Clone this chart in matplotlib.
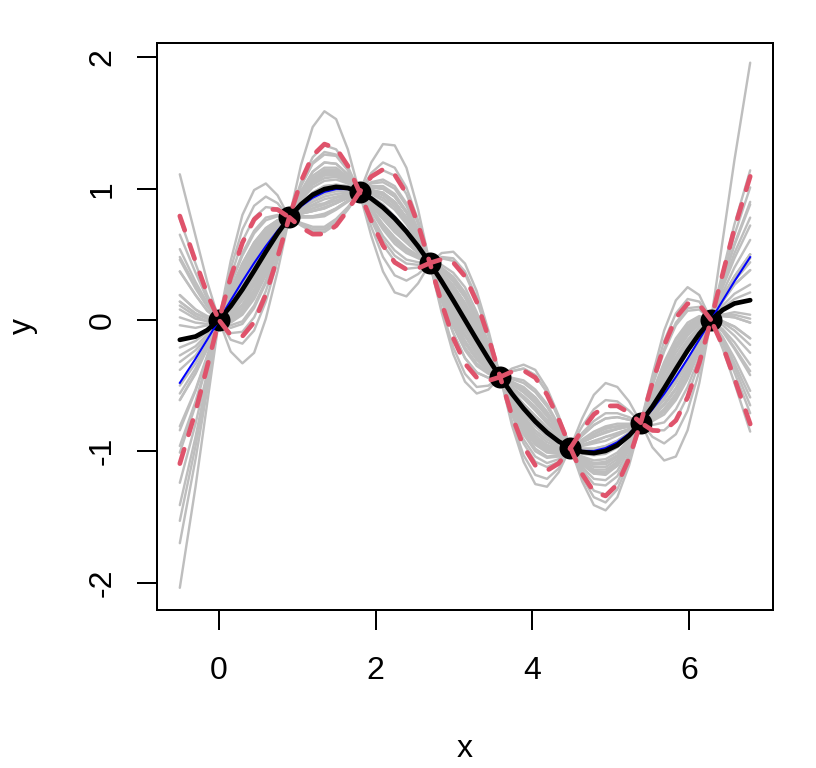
"""plot.py - GP posterior sample paths through sin(x) observations.

Grey: posterior sample paths, black: posterior mean, blue: true sin(x),
red dashed: 5% / 95% pointwise quantiles, dots: the 8 observations.
"""
import matplotlib
matplotlib.use("Agg")
import matplotlib.pyplot as plt


# ----------------------------------------------------------------
# R base-graphics look
# ----------------------------------------------------------------
plt.rcParams.update({
    "figure.facecolor":   "white",
    "axes.facecolor":     "white",
    "font.family":        ["Liberation Sans", "DejaVu Sans"],
    "font.size":          23,
    "axes.linewidth":     1.44,
    "axes.unicode_minus": False,
})

PX = 0.72          # one pixel in points at dpi=100

# ----------------------------------------------------------------
# data
# ----------------------------------------------------------------
x_obs = [0.0, 0.898, 1.795, 2.693, 3.590, 4.488, 5.386, 6.283]
y_obs = [0.0, 0.782, 0.975, 0.434, -0.434, -0.975, -0.782, 0.0]

x_grid = [-0.5, -0.2992, -0.1496, 0.0, 0.1496, 0.2992, 0.4488, 0.5984,
          0.7480, 0.8976, 1.0472, 1.1968, 1.3464, 1.4960, 1.6456, 1.7952,
          1.9448, 2.0944, 2.2440, 2.3936, 2.5432, 2.6928, 2.8424, 2.9920,
          3.1416, 3.2912, 3.4408, 3.5904, 3.7400, 3.8896, 4.0392, 4.1888,
          4.3384, 4.4880, 4.6376, 4.7872, 4.9368, 5.0864, 5.2360, 5.3856,
          5.5352, 5.6848, 5.8344, 5.9840, 6.1336, 6.2832, 6.4328, 6.5824,
          6.7832]

true_sin = [-0.479, -0.295, -0.149, 0.0, 0.149, 0.295, 0.434, 0.563, 0.680,
            0.782, 0.866, 0.931, 0.975, 0.997, 0.997, 0.975, 0.931, 0.866,
            0.782, 0.680, 0.563, 0.434, 0.295, 0.149, 0.0, -0.149, -0.295,
            -0.434, -0.563, -0.680, -0.782, -0.866, -0.931, -0.975, -0.997,
            -0.997, -0.975, -0.931, -0.866, -0.782, -0.680, -0.563, -0.434,
            -0.295, -0.149, 0.0, 0.149, 0.295, 0.479]

post_mean = [-0.151, -0.126, -0.077, 0.0, 0.105, 0.232, 0.374, 0.520, 0.659,
             0.782, 0.881, 0.954, 0.997, 1.014, 1.005, 0.975, 0.925, 0.857,
             0.773, 0.674, 0.561, 0.434, 0.296, 0.150, 0.0, -0.150, -0.296,
             -0.434, -0.561, -0.674, -0.773, -0.857, -0.925, -0.975, -1.005,
             -1.014, -0.997, -0.954, -0.881, -0.782, -0.659, -0.520, -0.374,
             -0.232, -0.105, 0.0, 0.077, 0.126, 0.151]

band_hi = [0.792, 0.446, 0.198, 0.0, 0.325, 0.589, 0.765, 0.845, 0.841,
           0.782, 1.056, 1.253, 1.340, 1.308, 1.174, 0.975, 1.092, 1.147,
           1.107, 0.963, 0.727, 0.434, 0.462, 0.438, 0.332, 0.138, -0.130,
           -0.434, -0.394, -0.385, -0.439, -0.568, -0.757, -0.975, -0.837,
           -0.719, -0.655, -0.654, -0.706, -0.782, -0.477, -0.195, 0.017,
           0.124, 0.116, 0.0, 0.353, 0.697, 1.094]

band_lo = [-1.094, -0.697, -0.353, 0.0, -0.116, -0.124, -0.017, 0.195, 0.477,
           0.782, 0.706, 0.654, 0.655, 0.719, 0.837, 0.975, 0.757, 0.568,
           0.439, 0.385, 0.394, 0.434, 0.130, -0.138, -0.332, -0.438, -0.462,
           -0.434, -0.727, -0.963, -1.107, -1.147, -1.092, -0.975, -1.174,
           -1.308, -1.340, -1.253, -1.056, -0.782, -0.841, -0.845, -0.765,
           -0.589, -0.325, 0.0, -0.198, -0.446, -0.792]

sample_paths = [
    [1.11, 0.64, 0.29, 0, -0.24, -0.33, -0.25, 0.01, 0.37, 0.78, 1.18, 1.47, 1.59, 1.53, 1.30, 0.97, 0.64, 0.37, 0.21, 0.18, 0.28, 0.43, 0.51, 0.52, 0.43, 0.22, -0.08, -0.43, -0.80, -1.08, -1.25, -1.27, -1.16, -0.97, -0.75, -0.57, -0.48, -0.51, -0.62, -0.78, -0.97, -1.07, -1.04, -0.84, -0.48, 0, 0.61, 1.22, 1.96],
    [-2.04, -1.27, -0.63, 0, 0.45, 0.80, 0.99, 1.04, 0.95, 0.78, 0.73, 0.69, 0.69, 0.75, 0.85, 0.97, 1.20, 1.34, 1.33, 1.16, 0.84, 0.43, 0.06, -0.26, -0.47, -0.56, -0.53, -0.43, -0.37, -0.34, -0.38, -0.52, -0.73, -0.97, -1.23, -1.41, -1.45, -1.35, -1.11, -0.78, -0.42, -0.08, 0.15, 0.25, 0.19, 0, -0.22, -0.48, -0.85],
    [-0.38, -0.27, -0.14, 0, 0.12, 0.25, 0.40, 0.54, 0.67, 0.78, 0.89, 0.97, 1.02, 1.03, 1.02, 0.97, 0.93, 0.86, 0.77, 0.67, 0.56, 0.43, 0.28, 0.11, -0.04, -0.19, -0.32, -0.43, -0.55, -0.66, -0.75, -0.84, -0.92, -0.97, -1.00, -1.00, -0.98, -0.94, -0.87, -0.78, -0.65, -0.50, -0.35, -0.21, -0.09, 0, -0.01, -0.05, -0.14],
    [0.02, -0.02, -0.03, 0, 0.13, 0.28, 0.42, 0.56, 0.68, 0.78, 0.85, 0.90, 0.94, 0.96, 0.97, 0.97, 0.94, 0.88, 0.79, 0.69, 0.57, 0.43, 0.30, 0.15, 0.00, -0.15, -0.30, -0.43, -0.54, -0.64, -0.73, -0.82, -0.90, -0.97, -1.04, -1.07, -1.06, -1.01, -0.91, -0.78, -0.64, -0.48, -0.33, -0.19, -0.08, 0, 0.11, 0.20, 0.27],
    [-0.61, -0.40, -0.21, 0, 0.16, 0.32, 0.47, 0.60, 0.70, 0.78, 0.86, 0.92, 0.96, 0.98, 0.98, 0.97, 0.96, 0.91, 0.84, 0.73, 0.59, 0.43, 0.26, 0.08, -0.08, -0.22, -0.34, -0.43, -0.54, -0.64, -0.73, -0.82, -0.90, -0.97, -1.02, -1.03, -1.02, -0.97, -0.89, -0.78, -0.63, -0.46, -0.30, -0.17, -0.07, 0, -0.02, -0.08, -0.19],
    [-0.21, -0.16, -0.09, 0, 0.15, 0.30, 0.45, 0.58, 0.69, 0.78, 0.83, 0.87, 0.89, 0.93, 0.95, 0.97, 0.97, 0.93, 0.86, 0.75, 0.60, 0.43, 0.27, 0.10, -0.06, -0.20, -0.33, -0.43, -0.51, -0.59, -0.67, -0.77, -0.87, -0.97, -1.05, -1.09, -1.08, -1.03, -0.92, -0.78, -0.64, -0.48, -0.33, -0.19, -0.08, 0, 0.16, 0.30, 0.44],
    [-0.84, -0.54, -0.28, 0, 0.19, 0.36, 0.52, 0.64, 0.73, 0.78, 0.84, 0.88, 0.92, 0.94, 0.96, 0.97, 0.98, 0.95, 0.88, 0.76, 0.61, 0.43, 0.23, 0.04, -0.12, -0.26, -0.36, -0.43, -0.52, -0.60, -0.69, -0.79, -0.88, -0.97, -1.07, -1.12, -1.12, -1.06, -0.94, -0.78, -0.58, -0.38, -0.21, -0.08, -0.01, 0, -0.09, -0.22, -0.42],
    [-0.32, -0.23, -0.13, 0, 0.17, 0.34, 0.49, 0.62, 0.72, 0.78, 0.81, 0.83, 0.85, 0.89, 0.93, 0.97, 0.99, 0.96, 0.90, 0.78, 0.62, 0.43, 0.21, 0.01, -0.16, -0.29, -0.38, -0.43, -0.49, -0.55, -0.63, -0.73, -0.85, -0.97, -1.06, -1.10, -1.10, -1.04, -0.93, -0.78, -0.62, -0.44, -0.28, -0.15, -0.05, 0, 0.08, 0.13, 0.15],
    [-1.01, -0.65, -0.33, 0, 0.23, 0.43, 0.59, 0.70, 0.76, 0.78, 0.81, 0.83, 0.85, 0.89, 0.93, 0.97, 1.01, 1.00, 0.94, 0.82, 0.64, 0.43, 0.23, 0.04, -0.12, -0.26, -0.36, -0.43, -0.48, -0.53, -0.61, -0.72, -0.84, -0.97, -1.10, -1.17, -1.18, -1.11, -0.97, -0.78, -0.58, -0.38, -0.21, -0.08, -0.01, 0, 0.03, 0.02, -0.02],
    [-0.50, -0.33, -0.18, 0, 0.21, 0.41, 0.56, 0.68, 0.75, 0.78, 0.78, 0.78, 0.79, 0.84, 0.90, 0.97, 1.02, 1.02, 0.96, 0.83, 0.65, 0.43, 0.18, -0.05, -0.23, -0.35, -0.41, -0.43, -0.47, -0.51, -0.59, -0.70, -0.83, -0.97, -1.09, -1.16, -1.16, -1.10, -0.96, -0.78, -0.55, -0.32, -0.14, -0.02, 0.03, 0, -0.14, -0.33, -0.59],
    [-1.24, -0.79, -0.40, 0, 0.27, 0.49, 0.66, 0.76, 0.79, 0.78, 0.79, 0.79, 0.81, 0.85, 0.91, 0.97, 1.04, 1.05, 1.00, 0.87, 0.67, 0.43, 0.19, -0.03, -0.21, -0.33, -0.40, -0.43, -0.44, -0.46, -0.53, -0.64, -0.80, -0.97, -1.12, -1.21, -1.22, -1.15, -0.99, -0.78, -0.56, -0.34, -0.16, -0.04, 0.02, 0, -0.04, -0.12, -0.25],
    [-1.41, -0.89, -0.45, 0, 0.28, 0.51, 0.68, 0.78, 0.80, 0.78, 0.74, 0.71, 0.71, 0.77, 0.86, 0.97, 1.05, 1.07, 1.02, 0.89, 0.69, 0.43, 0.15, -0.10, -0.29, -0.40, -0.44, -0.43, -0.45, -0.48, -0.55, -0.66, -0.81, -0.97, -1.14, -1.25, -1.26, -1.19, -1.02, -0.78, -0.50, -0.24, -0.04, 0.07, 0.08, 0, -0.18, -0.40, -0.71],
    [-1.53, -0.96, -0.48, 0, 0.33, 0.60, 0.78, 0.86, 0.85, 0.78, 0.73, 0.69, 0.69, 0.75, 0.85, 0.97, 1.09, 1.14, 1.10, 0.96, 0.73, 0.43, 0.15, -0.10, -0.29, -0.40, -0.44, -0.43, -0.39, -0.37, -0.42, -0.55, -0.75, -0.97, -1.17, -1.30, -1.33, -1.24, -1.05, -0.78, -0.49, -0.22, -0.02, 0.09, 0.10, 0, -0.13, -0.29, -0.54],
    [-1.70, -1.06, -0.53, 0, 0.39, 0.69, 0.87, 0.94, 0.89, 0.78, 0.72, 0.67, 0.67, 0.73, 0.84, 0.97, 1.12, 1.20, 1.16, 1.01, 0.76, 0.43, 0.09, -0.21, -0.41, -0.51, -0.50, -0.43, -0.39, -0.37, -0.42, -0.55, -0.75, -0.97, -1.20, -1.35, -1.39, -1.29, -1.08, -0.78, -0.46, -0.16, 0.05, 0.16, 0.14, 0, -0.16, -0.36, -0.65],
    [0.14, 0.05, 0.01, 0, 0.09, 0.21, 0.35, 0.50, 0.65, 0.78, 0.87, 0.94, 0.98, 1.00, 1.00, 0.97, 0.92, 0.84, 0.75, 0.66, 0.55, 0.43, 0.30, 0.15, 0.00, -0.15, -0.30, -0.43, -0.58, -0.71, -0.81, -0.89, -0.95, -0.97, -1.00, -1.00, -0.98, -0.94, -0.87, -0.78, -0.66, -0.52, -0.37, -0.23, -0.11, 0, 0.03, 0.02, -0.02],
    [-0.27, -0.20, -0.11, 0, 0.08, 0.19, 0.33, 0.48, 0.64, 0.78, 0.89, 0.97, 1.02, 1.03, 1.02, 0.97, 0.89, 0.80, 0.71, 0.62, 0.53, 0.43, 0.32, 0.19, 0.04, -0.11, -0.28, -0.43, -0.57, -0.69, -0.79, -0.88, -0.94, -0.97, -0.98, -0.98, -0.96, -0.92, -0.86, -0.78, -0.69, -0.58, -0.45, -0.30, -0.15, 0, 0.18, 0.33, 0.50],
    [0.19, 0.08, 0.02, 0, 0.07, 0.17, 0.30, 0.46, 0.63, 0.78, 0.92, 1.03, 1.08, 1.09, 1.05, 0.97, 0.90, 0.82, 0.73, 0.64, 0.54, 0.43, 0.33, 0.20, 0.06, -0.10, -0.27, -0.43, -0.60, -0.75, -0.86, -0.93, -0.97, -0.97, -0.98, -0.98, -0.96, -0.92, -0.86, -0.78, -0.67, -0.54, -0.40, -0.25, -0.12, 0, 0.04, 0.06, 0.04],
    [-0.15, -0.13, -0.08, 0, 0.05, 0.15, 0.28, 0.44, 0.62, 0.78, 0.91, 1.01, 1.06, 1.07, 1.04, 0.97, 0.87, 0.77, 0.67, 0.59, 0.51, 0.43, 0.34, 0.22, 0.08, -0.08, -0.26, -0.43, -0.59, -0.73, -0.84, -0.91, -0.96, -0.97, -0.95, -0.93, -0.89, -0.87, -0.83, -0.78, -0.70, -0.60, -0.47, -0.32, -0.16, 0, 0.21, 0.40, 0.61],
    [0.37, 0.19, 0.07, 0, 0.04, 0.12, 0.26, 0.42, 0.60, 0.78, 0.94, 1.06, 1.12, 1.12, 1.07, 0.97, 0.88, 0.79, 0.69, 0.60, 0.52, 0.43, 0.35, 0.24, 0.10, -0.06, -0.24, -0.43, -0.62, -0.78, -0.90, -0.96, -0.99, -0.97, -0.96, -0.94, -0.92, -0.88, -0.84, -0.78, -0.73, -0.64, -0.52, -0.36, -0.19, 0, 0.09, 0.16, 0.21],
    [-0.04, -0.06, -0.04, 0, 0.01, 0.08, 0.21, 0.38, 0.58, 0.78, 0.93, 1.04, 1.10, 1.10, 1.06, 0.97, 0.85, 0.73, 0.63, 0.55, 0.49, 0.43, 0.36, 0.26, 0.12, -0.04, -0.23, -0.43, -0.61, -0.76, -0.88, -0.95, -0.98, -0.97, -0.93, -0.89, -0.85, -0.83, -0.81, -0.78, -0.73, -0.64, -0.52, -0.36, -0.19, 0, 0.25, 0.47, 0.72],
    [0.48, 0.26, 0.11, 0, 0.00, 0.06, 0.18, 0.36, 0.57, 0.78, 0.95, 1.08, 1.14, 1.14, 1.08, 0.97, 0.84, 0.72, 0.61, 0.53, 0.48, 0.43, 0.39, 0.31, 0.19, 0.01, -0.20, -0.43, -0.63, -0.80, -0.92, -0.98, -1.00, -0.97, -0.92, -0.87, -0.83, -0.81, -0.80, -0.78, -0.76, -0.70, -0.59, -0.43, -0.23, 0, 0.14, 0.27, 0.38],
    [0.08, 0.01, -0.01, 0, -0.02, 0.04, 0.16, 0.34, 0.56, 0.78, 0.98, 1.13, 1.20, 1.19, 1.11, 0.97, 0.84, 0.72, 0.61, 0.53, 0.48, 0.43, 0.39, 0.31, 0.19, 0.01, -0.20, -0.43, -0.66, -0.85, -0.98, -1.04, -1.03, -0.97, -0.91, -0.85, -0.81, -0.79, -0.79, -0.78, -0.75, -0.68, -0.56, -0.41, -0.21, 0, 0.30, 0.58, 0.90],
    [0.65, 0.36, 0.16, 0, -0.04, -0.01, 0.11, 0.30, 0.54, 0.78, 0.98, 1.13, 1.20, 1.19, 1.11, 0.97, 0.80, 0.64, 0.53, 0.46, 0.44, 0.43, 0.40, 0.33, 0.21, 0.03, -0.19, -0.43, -0.67, -0.87, -1.00, -1.05, -1.04, -0.97, -0.88, -0.80, -0.75, -0.74, -0.76, -0.78, -0.77, -0.72, -0.61, -0.45, -0.24, 0, 0.18, 0.33, 0.50],
    [0.37, 0.19, 0.07, 0, -0.06, -0.03, 0.09, 0.28, 0.53, 0.78, 1.02, 1.19, 1.26, 1.25, 1.14, 0.97, 0.78, 0.61, 0.49, 0.43, 0.42, 0.43, 0.42, 0.36, 0.25, 0.06, -0.17, -0.43, -0.70, -0.91, -1.04, -1.09, -1.06, -0.97, -0.88, -0.80, -0.75, -0.74, -0.76, -0.78, -0.80, -0.78, -0.68, -0.51, -0.28, 0, 0.37, 0.73, 1.14],
    [0.77, 0.43, 0.19, 0, -0.10, -0.09, 0.02, 0.22, 0.49, 0.78, 1.03, 1.20, 1.28, 1.26, 1.15, 0.97, 0.76, 0.57, 0.45, 0.39, 0.40, 0.43, 0.47, 0.45, 0.35, 0.15, -0.12, -0.43, -0.72, -0.94, -1.08, -1.12, -1.08, -0.97, -0.86, -0.77, -0.71, -0.71, -0.74, -0.78, -0.84, -0.84, -0.76, -0.58, -0.32, 0, 0.26, 0.51, 0.78],
    [0.54, 0.29, 0.13, 0, -0.15, -0.18, -0.08, 0.14, 0.45, 0.78, 1.05, 1.24, 1.33, 1.30, 1.17, 0.97, 0.71, 0.48, 0.34, 0.30, 0.35, 0.43, 0.48, 0.47, 0.37, 0.17, -0.11, -0.43, -0.77, -1.03, -1.18, -1.21, -1.13, -0.97, -0.81, -0.68, -0.61, -0.62, -0.69, -0.78, -0.89, -0.94, -0.87, -0.69, -0.39, 0, 0.33, 0.65, 1.01],
    [-0.61, -0.41, -0.22, 0, 0.20, 0.39, 0.54, 0.66, 0.74, 0.78, 0.82, 0.85, 0.88, 0.91, 0.94, 0.97, 0.99, 0.97, 0.90, 0.78, 0.62, 0.43, 0.25, 0.06, -0.11, -0.24, -0.35, -0.43, -0.49, -0.55, -0.63, -0.73, -0.85, -0.97, -1.08, -1.14, -1.14, -1.08, -0.95, -0.78, -0.60, -0.41, -0.25, -0.12, -0.03, 0, 0.04, 0.04, 0.01],
    [0.19, 0.08, 0.03, 0, 0.02, 0.09, 0.22, 0.39, 0.59, 0.78, 0.94, 1.05, 1.11, 1.11, 1.07, 0.97, 0.85, 0.72, 0.62, 0.54, 0.49, 0.43, 0.36, 0.26, 0.13, -0.04, -0.24, -0.43, -0.62, -0.78, -0.90, -0.97, -0.99, -0.97, -0.93, -0.89, -0.86, -0.83, -0.81, -0.78, -0.73, -0.65, -0.53, -0.38, -0.20, 0, 0.18, 0.33, 0.50],
    [-0.96, -0.62, -0.31, 0, 0.23, 0.43, 0.59, 0.70, 0.76, 0.78, 0.81, 0.83, 0.86, 0.89, 0.94, 0.97, 1.01, 1.00, 0.94, 0.82, 0.65, 0.43, 0.22, 0.01, -0.17, -0.30, -0.38, -0.43, -0.47, -0.52, -0.59, -0.70, -0.84, -0.97, -1.09, -1.15, -1.16, -1.09, -0.96, -0.78, -0.57, -0.36, -0.19, -0.06, 0.01, 0, -0.07, -0.17, -0.34],
    [0.46, 0.24, 0.10, 0, -0.01, 0.06, 0.19, 0.36, 0.57, 0.78, 0.95, 1.07, 1.13, 1.13, 1.08, 0.97, 0.84, 0.71, 0.60, 0.53, 0.48, 0.43, 0.39, 0.30, 0.18, 0.00, -0.21, -0.43, -0.65, -0.83, -0.95, -1.01, -1.02, -0.97, -0.93, -0.89, -0.85, -0.83, -0.81, -0.78, -0.75, -0.68, -0.57, -0.41, -0.22, 0, 0.15, 0.27, 0.38],
    [-0.56, -0.37, -0.20, 0, 0.19, 0.37, 0.52, 0.64, 0.73, 0.78, 0.82, 0.85, 0.88, 0.91, 0.94, 0.97, 0.99, 0.97, 0.90, 0.78, 0.62, 0.43, 0.22, 0.02, -0.16, -0.29, -0.38, -0.43, -0.51, -0.58, -0.66, -0.76, -0.87, -0.97, -1.06, -1.10, -1.09, -1.04, -0.93, -0.78, -0.59, -0.39, -0.22, -0.10, -0.02, 0, -0.08, -0.21, -0.39],
    [0.14, 0.05, 0.01, 0, 0.03, 0.11, 0.23, 0.40, 0.60, 0.78, 0.95, 1.08, 1.14, 1.14, 1.08, 0.97, 0.87, 0.77, 0.67, 0.59, 0.51, 0.43, 0.36, 0.26, 0.13, -0.05, -0.24, -0.43, -0.63, -0.80, -0.92, -0.99, -1.00, -0.97, -0.95, -0.92, -0.89, -0.86, -0.83, -0.78, -0.71, -0.61, -0.48, -0.33, -0.17, 0, 0.17, 0.32, 0.47],
    [-0.81, -0.53, -0.27, 0, 0.22, 0.41, 0.57, 0.68, 0.75, 0.78, 0.79, 0.79, 0.80, 0.85, 0.91, 0.97, 1.01, 1.00, 0.94, 0.82, 0.65, 0.43, 0.21, 0.00, -0.18, -0.30, -0.39, -0.43, -0.48, -0.54, -0.61, -0.72, -0.84, -0.97, -1.10, -1.17, -1.17, -1.11, -0.97, -0.78, -0.57, -0.36, -0.19, -0.06, 0.00, 0, -0.01, -0.05, -0.14],
    [0.11, 0.03, -0.01, 0, -0.01, 0.06, 0.19, 0.36, 0.58, 0.78, 0.97, 1.10, 1.16, 1.16, 1.09, 0.97, 0.83, 0.69, 0.58, 0.51, 0.47, 0.43, 0.38, 0.29, 0.17, -0.01, -0.22, -0.43, -0.65, -0.82, -0.94, -1.00, -1.01, -0.97, -0.92, -0.87, -0.82, -0.81, -0.80, -0.78, -0.75, -0.69, -0.58, -0.42, -0.22, 0, 0.29, 0.57, 0.88],
]

x_ticks = [0, 2, 4, 6]
y_ticks = [-2, -1, 0, 1, 2]


def plot_gp(out_path: str = "out.png") -> None:
    fig = plt.figure(figsize=(8.16, 7.68), dpi=100)
    ax = fig.add_axes([157 / 816, 1 - 610 / 768, 616 / 816, 567 / 768])

    # grey sample paths first, R draws them with matplot()
    for path in sample_paths:
        ax.plot(x_grid, path, color="#BEBEBE", lw=2.4 * PX,
                solid_capstyle="round", solid_joinstyle="round", zorder=1)

    ax.plot(x_obs, y_obs, "o", color="black", ms=22 * PX,
            markeredgewidth=0, zorder=2)

    ax.plot(x_grid, true_sin, color="blue", lw=2 * PX, zorder=3)
    ax.plot(x_grid, post_mean, color="black", lw=4.7 * PX,
            solid_capstyle="round", zorder=4)
    for band in (band_lo, band_hi):
        ax.plot(x_grid, band, color="#DF536B", lw=4.7 * PX,
                linestyle=(0, (3.2, 3.2)), dash_capstyle="round", zorder=5)

    ax.set_xlim(-0.7913, 7.0745)
    ax.set_ylim(-2.209, 2.110)
    ax.set_xticks(x_ticks)
    ax.set_yticks(y_ticks)
    ax.tick_params(direction="out", length=20 * PX, width=2 * PX,
                   labelsize=23)
    ax.tick_params(axis="x", pad=19)
    ax.tick_params(axis="y", pad=14)
    for lab in ax.get_yticklabels():
        lab.set_rotation(90)
        lab.set_va("center")

    ax.set_xlabel("x", labelpad=34)
    ax.set_ylabel("y", labelpad=36)

    fig.savefig(out_path, dpi=100)
    plt.close(fig)


if __name__ == "__main__":
    plot_gp("out.png")
